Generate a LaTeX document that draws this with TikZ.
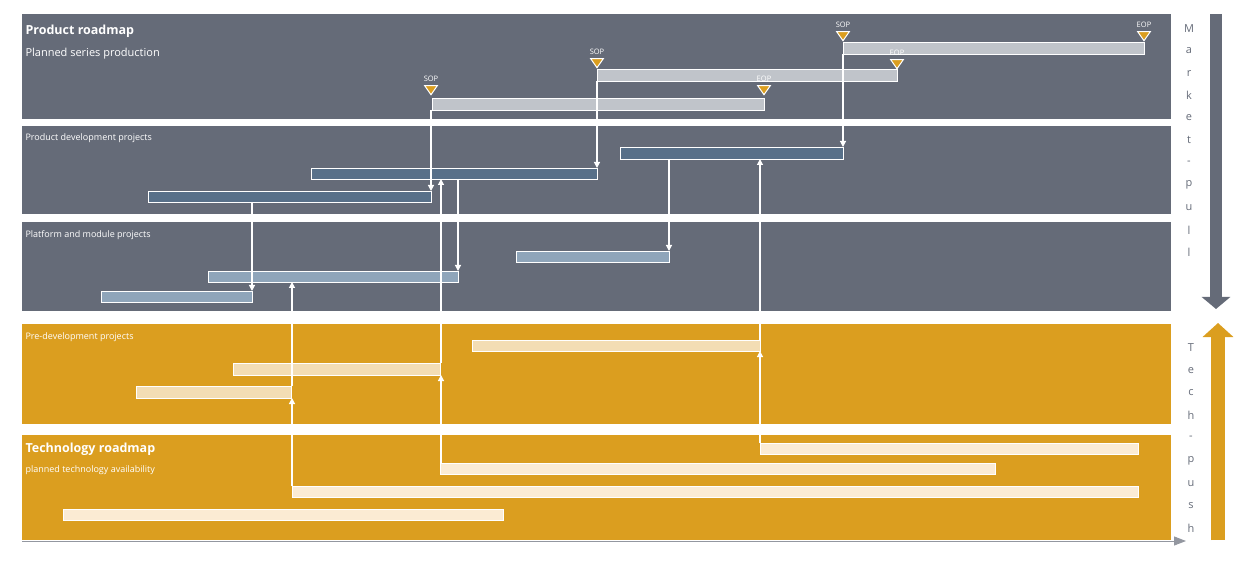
\documentclass[tikz,border=0pt]{standalone}
\usepackage{fontspec}
\setmainfont{Open Sans}
\usetikzlibrary{arrows.meta,shapes.geometric}
\definecolor{slate}{HTML}{656B78}
\definecolor{amber}{HTML}{DB9E1F}
\definecolor{prodbar}{HTML}{C0C4CA}
\definecolor{devbar}{HTML}{587089}
\definecolor{platbar}{HTML}{8FA5BA}
\definecolor{prebar}{HTML}{F3DDB4}
\definecolor{techbar}{HTML}{FBEBD3}

\tikzset{
  band/.style={fill=#1,draw=none},
  bar/.style={fill=#1,draw=white,line width=0.9pt},
  flow/.style={white,line width=1.2pt,-{Triangle[width=6pt,length=6pt]}},
  milestone/.style={fill=amber,draw=white,line width=1pt,isosceles triangle,shape border rotate=-90,
    isosceles triangle apex angle=70,inner sep=0pt,minimum height=9pt},
  tag/.style={white,font=\fontsize{7.5}{8}\selectfont,anchor=south},
  lbl/.style={white,anchor=west,font=\fontsize{9}{10}\selectfont}
}

\begin{document}
\begin{tikzpicture}[x=1pt,y=-1pt]
  \useasboundingbox (0,0) rectangle (1254,564);
  % bands
  \fill[band=slate] (22,14) rectangle (1171,119);
  \fill[band=slate] (22,126) rectangle (1171,214);
  \fill[band=slate] (22,222) rectangle (1171,311);
  \fill[band=amber] (22,324) rectangle (1171,424);
  \fill[band=amber] (22,435) rectangle (1171,540);
  \draw[slate!70,line width=1pt,-{Triangle[width=9pt,length=12pt]}] (22,541) -- (1186,541);

  \node[lbl,font=\bfseries\fontsize{12.5}{14}\selectfont] (tprod) at (22,31) {Product roadmap};
  \node[lbl,font=\fontsize{11}{13}\selectfont] (sprod) at (22,54) {Planned series production};
  \node[lbl] (tdev) at (22,138) {Product development projects};
  \node[lbl] (tplat) at (22,235) {Platform and module projects};
  \node[lbl] (tpre) at (22,337) {Pre-development projects};
  \node[lbl,font=\bfseries\fontsize{12.5}{14}\selectfont] (ttech) at (22,449) {Technology roadmap};
  \node[lbl] (stech) at (22,470) {planned technology availability};

  % product roadmap bars
  \draw[bar=prodbar] (432,98) rectangle (764,110);
  \draw[bar=prodbar] (597,69) rectangle (897,81);
  \draw[bar=prodbar] (843,42) rectangle (1144,54);
  \foreach \x/\y/\t [count=\i] in {431/89/SOP,764/89/EOP,597/62/SOP,897/63/EOP,843/35/SOP,1144/35/EOP}{
    \node[milestone] (m\i) at (\x,\y) {};
    \node[tag] (t\i) at (\x,\y-4) {\t};
  }
  % development bars
  \draw[bar=devbar] (148,191) rectangle (431,202);
  \draw[bar=devbar] (311,168) rectangle (597,179);
  \draw[bar=devbar] (620,147) rectangle (843,159);
  % platform bars
  \draw[bar=platbar] (101,291) rectangle (252,302);
  \draw[bar=platbar] (208,271) rectangle (458,282);
  \draw[bar=platbar] (516,251) rectangle (669,262);
  % pre-development bars
  \draw[bar=prebar] (136,386) rectangle (291,398);
  \draw[bar=prebar] (233,363) rectangle (440,375);
  \draw[bar=prebar] (472,340) rectangle (760,351);
  % technology bars
  \draw[bar=techbar] (63,509) rectangle (503,520);
  \draw[bar=techbar] (292,486) rectangle (1138,497);
  \draw[bar=techbar] (440,463) rectangle (995,474);
  \draw[bar=techbar] (760,443) rectangle (1138,454);

  % market pull
  \draw[flow] (431,110) -- (431,191);
  \draw[flow] (597,81) -- (597,168);
  \draw[flow] (843,54) -- (843,147);
  \draw[flow] (252,202) -- (252,291);
  \draw[flow] (458,179) -- (458,271);
  \draw[flow] (669,159) -- (669,251);
  % tech push
  \draw[flow] (292,486) -- (292,398);
  \draw[flow] (292,386) -- (292,282);
  \draw[flow] (441,463) -- (441,375);
  \draw[flow] (441,363) -- (441,179);
  \draw[flow] (760,443) -- (760,351);
  \draw[flow] (760,340) -- (760,159);

  % side arrows
  \draw[slate,line width=12pt,-{Triangle[width=28pt,length=12pt]}] (1216,14) -- (1216,309);
  \draw[amber,line width=14pt,-{Triangle[width=30pt,length=14pt]}] (1218,540) -- (1218,323);
  \foreach \c [count=\i] in {M,a,r,k,e,t,-,p,u,l,l}
    \node[slate,font=\fontsize{11}{12}\selectfont] (mp\i) at (1189,6+\i*22.4) {\c};
  \foreach \c [count=\i] in {T,e,c,h,-,p,u,s,h}
    \node[slate,font=\fontsize{11}{12}\selectfont] (tp\i) at (1191,325+\i*22.6) {\c};
\end{tikzpicture}
\end{document}
